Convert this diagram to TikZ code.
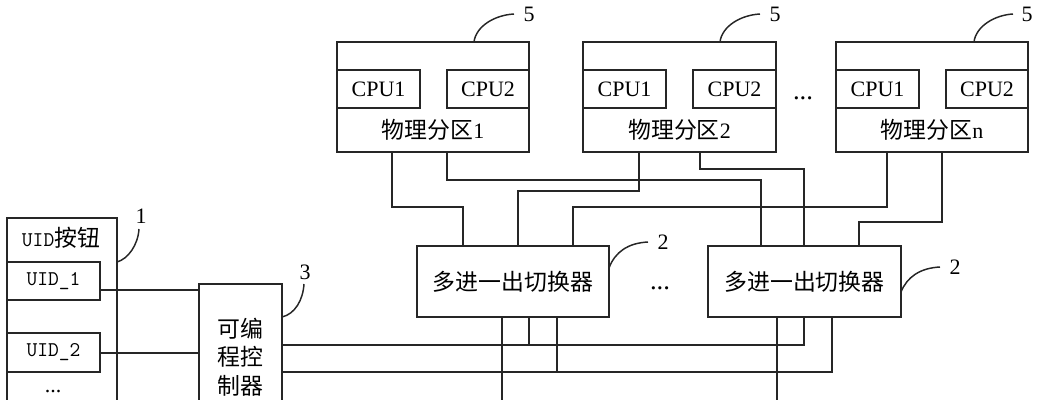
\documentclass[tikz,border=0pt]{standalone}
\usepackage{fontspec}
\setmainfont{Liberation Serif}
\newfontfamily\cjk[Scale=1.04]{Noto Sans CJK SC}
\tikzset{
  box/.style={draw=black!85,line width=1.05pt,inner sep=0pt,outer sep=0pt},
  wire/.style={draw=black!85,line width=1.05pt},
  lead/.style={draw=black!85,line width=1.1pt},
  txt/.style={inner sep=0pt,font=\fontsize{16.5}{21.5}\selectfont},
  dotstxt/.style={inner sep=0pt,font=\fontsize{20}{20}\selectfont},
  uidtxt/.style={inner sep=0pt,font=\fontsize{15.7}{17}\selectfont\ttfamily}
}
\begin{document}
\begin{tikzpicture}[x=0.75pt,y=-0.75pt]
        \useasboundingbox (0,0) rectangle (1040,400);
        \clip (0,0) rectangle (1040,400);

        % Partitions
        \node[box,minimum width=144pt,minimum height=82.5pt] (part1) at (433,97) {};
        \node[box,minimum width=62.25pt,minimum height=28.5pt] (cpu1a) at (378.5,89) {};
        \node[box,minimum width=61.5pt,minimum height=28.5pt] (cpu1b) at (488,89) {};
        \node[txt] at (cpu1a) {CPU1};
        \node[txt] at (cpu1b) {CPU2};
        \node[txt] (name1) at (433,130) {{\cjk 物理分区}1};

        \node[box,minimum width=144.75pt,minimum height=82.5pt] (part2) at (679.5,97) {};
        \node[box,minimum width=62.25pt,minimum height=28.5pt] (cpu2a) at (624.5,89) {};
        \node[box,minimum width=62.25pt,minimum height=28.5pt] (cpu2b) at (734.5,89) {};
        \node[txt] at (cpu2a) {CPU1};
        \node[txt] at (cpu2b) {CPU2};
        \node[txt] (name2) at (679.5,130) {{\cjk 物理分区}2};

        \node[box,minimum width=144pt,minimum height=82.5pt] (partn) at (932,97) {};
        \node[box,minimum width=62.25pt,minimum height=28.5pt] (cpuna) at (877.5,89) {};
        \node[box,minimum width=61.5pt,minimum height=28.5pt] (cpunb) at (987,89) {};
        \node[txt] at (cpuna) {CPU1};
        \node[txt] at (cpunb) {CPU2};
        \node[txt] (namen) at (932,130) {{\cjk 物理分区}n};
        \node[dotstxt] (dotsp) at (803,98) {...};

        % Switches
        \node[box,minimum width=144pt,minimum height=53.25pt] (sw1) at (513,281.5) {};
        \node[txt] at (sw1) {\cjk 多进一出切换器};
        \node[box,minimum width=144.75pt,minimum height=53.25pt] (sw2) at (804.5,281.5) {};
        \node[txt] at (sw2) {\cjk 多进一出切换器};
        \node[dotstxt] (dotss) at (660,288) {...};

        % UID buttons and controller
        \node[box,minimum width=82.5pt,minimum height=151.5pt] (uid) at (62,319) {};
        \node[inner sep=0pt] (uidname) at (61,238) {\fontsize{15.7}{17}\selectfont\ttfamily UID{\fontsize{16.5}{17}\selectfont\cjk 按钮}};
        \node[box,minimum width=69.75pt,minimum height=28.5pt] (uid1) at (53.5,281) {};
        \node[uidtxt] at (uid1) {UID\_1};
        \node[box,minimum width=69.75pt,minimum height=29.25pt] (uid2) at (53.5,352.5) {};
        \node[uidtxt] at (uid2) {UID\_2};
        \node[txt] (dotsu) at (53,392) {...};
        \node[box,minimum width=62.25pt,minimum height=102pt] (ctrl) at (240.5,352) {};
        \node[txt,align=center] (ctrlname) at (240,357) {\cjk 可编\\\cjk 程控\\\cjk 制器};

        % Partition to switch
        \draw[wire] (part1.south -| 392,0) -- (392,207) -- (463,207) -- (sw1.north -| 463,0);
        \draw[wire] (part1.south -| 447,0) -- (447,180) -- (761,180) -- (sw2.north -| 761,0);
        \draw[wire] (part2.south -| 639,0) -- (639,191) -- (518,191) -- (sw1.north -| 518,0);
        \draw[wire] (part2.south -| 700,0) -- (700,169) -- (804,169) -- (sw2.north -| 804,0);
        \draw[wire] (partn.south -| 887,0) -- (887,207) -- (573,207) -- (sw1.north -| 573,0);
        \draw[wire] (partn.south -| 942,0) -- (942,222) -- (859,222) -- (sw2.north -| 859,0);

        % UID to controller
        \draw[wire] (uid1.east |- 0,290) -- (ctrl.west |- 0,290);
        \draw[wire] (uid2.east |- 0,353) -- (ctrl.west |- 0,353);

        % Controller to switch
        \draw[wire] (ctrl.east |- 0,345) -- (804,345) -- (sw2.south -| 804,0);
        \draw[wire] (ctrl.east |- 0,372) -- (832,372) -- (sw2.south -| 832,0);
        \draw[wire] (sw1.south -| 529,0) -- (529,345);
        \draw[wire] (sw1.south -| 557,0) -- (557,372);
        \draw[wire] (sw1.south -| 502,0) -- (502,410);
        \draw[wire] (sw2.south -| 777,0) -- (777,410);

        % Reference numbers
        \node[txt] (ref5a) at (529,14) {5};
        \node[txt] (ref5b) at (775,14) {5};
        \node[txt] (ref5c) at (1027,14) {5};
        \node[txt] (ref2a) at (663,242) {2};
        \node[txt] (ref2b) at (955,267) {2};
        \node[txt] (ref3) at (305,272) {3};
        \node[txt] (ref1) at (141,216) {1};
        \coordinate (lead5a) at (514,14);
        \coordinate (lead5b) at (760,14);
        \coordinate (lead5c) at (1013,14);
        \coordinate (lead2a) at (648,242);
        \coordinate (lead2b) at (940,267);
        \coordinate (lead3) at (304,284);
        \coordinate (lead1) at (139,229);
        \draw[lead] (part1.north -| 474,0) .. controls (476,26) and (495,15) .. (lead5a);
        \draw[lead] (part2.north -| 720,0) .. controls (722,26) and (741,15) .. (lead5b);
        \draw[lead] (partn.north -| 974,0) .. controls (976,26) and (995,15) .. (lead5c);
        \draw[lead] (sw1.east |- 0,268) .. controls (615,252) and (628,243) .. (lead2a);
        \draw[lead] (sw2.east |- 0,292) .. controls (907,277) and (920,268) .. (lead2b);
        \draw[lead] (ctrl.east |- 0,317) .. controls (295,314) and (303,300) .. (lead3);
        \draw[lead] (uid.east |- 0,262) .. controls (128,259) and (138,245) .. (lead1);
\end{tikzpicture}
\end{document}
